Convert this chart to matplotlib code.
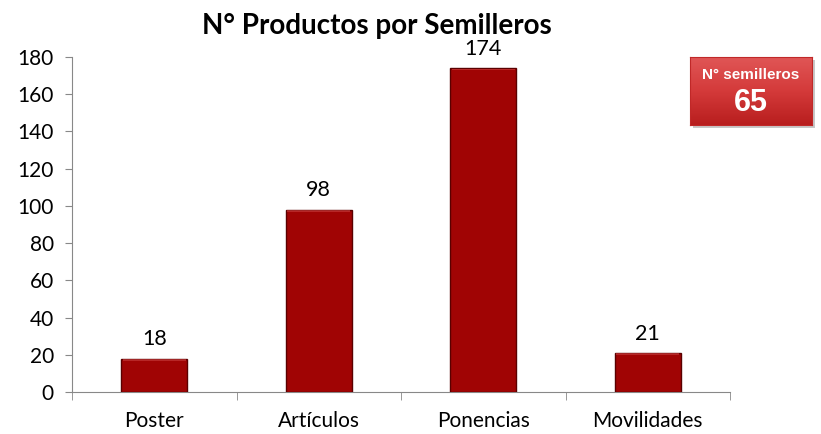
import matplotlib
matplotlib.use("Agg")
import matplotlib.pyplot as plt
import numpy as np
from matplotlib.patches import Rectangle
from matplotlib.colors import LinearSegmentedColormap

categories = ["Poster", "Artículos", "Ponencias", "Movilidades"]
values = [18, 98, 174, 21]
yticks = [0, 20, 40, 60, 80, 100, 120, 140, 160, 180]
title = "N° Productos por Semilleros"
box_label = "N° semilleros"
box_value = "65"

plt.rcParams['font.family'] = ['Lato', 'DejaVu Sans']

fig = plt.figure(figsize=(8.21, 4.34), dpi=100)
ax = fig.add_axes([72/821, 1-392/434, (730-72)/821, (392-57)/434])

x = list(range(len(categories)))
bars = ax.bar(x, values, width=0.4, color="#A00404", edgecolor="#5a0000", linewidth=1.0, zorder=3)
for b in bars:
    ax.add_patch(Rectangle((b.get_x()+0.01, b.get_height()-1.2), b.get_width()-0.02, 0.9,
                           color="#d04040", alpha=0.6, zorder=4, linewidth=0))
for xi, v in zip(x, values):
    ax.text(xi, v + 5, str(v), ha="center", va="bottom", fontsize=15.5, color="black")

ax.set_xlim(-0.5, len(categories) - 0.5)
ax.set_ylim(0, 180)
ax.set_yticks(yticks)
ax.tick_params(axis="y", labelsize=15, length=5, color="#888888", pad=8)
ax.set_xticks(x)
ax.set_xticklabels(categories, fontsize=15)
ax.tick_params(axis="x", length=0, pad=14)
ax.set_xticks([i + 0.5 for i in range(-1, len(categories))], minor=True)
ax.tick_params(axis="x", which="minor", length=6, color="#888888")
for s in ["top", "right"]:
    ax.spines[s].set_visible(False)
ax.spines["left"].set_color("#888888")
ax.spines["bottom"].set_color("#888888")

fig.text(377/821, 1-26/434, title, ha="center", va="center", fontsize=20, fontweight="bold")

# info box
bx0, by0, bw, bh = 690/821, 1-125/434, 122/821, 68/434
sax = fig.add_axes([bx0 + 0.004, by0 - 0.008, bw, bh])
sax.set_facecolor("#c8c8c8")
sax.set_xticks([]); sax.set_yticks([])
for s in sax.spines.values():
    s.set_visible(False)
sax.set_zorder(4)
bax = fig.add_axes([bx0, by0, bw, bh])
bax.set_zorder(5)
cmap = LinearSegmentedColormap.from_list("g", ["#B81E1E", "#D43A3A", "#E05656"])
grad = np.linspace(0, 1, 100).reshape(-1, 1)
bax.imshow(grad, aspect="auto", cmap=cmap, origin="lower", extent=[0, 1, 0, 1])
bax.set_xlim(0, 1); bax.set_ylim(0, 1)
bax.set_xticks([]); bax.set_yticks([])
for s in bax.spines.values():
    s.set_color("#c02828")
bax.text(0.5, 0.74, box_label, ha="center", va="center", fontsize=11,
         fontweight="bold", color="white", family=["Liberation Sans", "DejaVu Sans"])
bax.text(0.5, 0.32, box_value, ha="center", va="center", fontsize=22,
         fontweight="bold", color="white", family=["Liberation Sans", "DejaVu Sans"])

fig.savefig("out.png", dpi=100)
